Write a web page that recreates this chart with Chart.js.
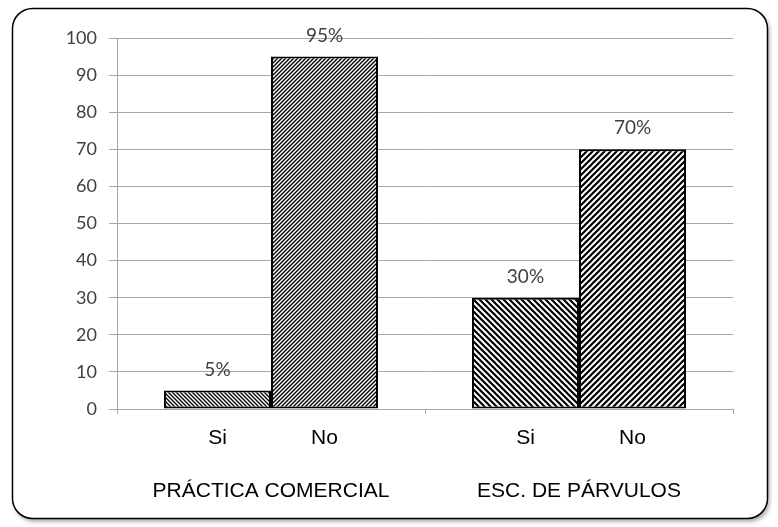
<!DOCTYPE html>
<html>
<head>
<meta charset="utf-8">
<script src="https://cdn.jsdelivr.net/npm/chart.js@4/dist/chart.umd.min.js"></script>
<style>
html,body{margin:0;padding:0;background:#fff;}
#wrap{width:778px;height:527px;position:relative;}
</style>
</head>
<body>
<div id="wrap"><canvas id="c"></canvas></div>
<script>
// ---- data ----
const categories = ['PRÁCTICA COMERCIAL', 'ESC. DE PÁRVULOS'];
const seriesNames = ['Si', 'No'];
const siValues = [5, 30];
const noValues = [95, 70];
const yTicks = [0, 10, 20, 30, 40, 50, 60, 70, 80, 90, 100];

// ---- hatch patterns ----
function hatch(period, width, dir) {
  const c = document.createElement('canvas');
  c.width = period; c.height = period;
  const g = c.getContext('2d');
  g.fillStyle = '#fff';
  g.fillRect(0, 0, period, period);
  g.strokeStyle = '#000';
  g.lineWidth = width;
  g.beginPath();
  const p = period;
  if (dir === 'back') {
    g.moveTo(-p, -p); g.lineTo(2 * p, 2 * p);
    g.moveTo(-p, 0); g.lineTo(p, 2 * p);
    g.moveTo(0, -p); g.lineTo(2 * p, p);
  } else {
    g.moveTo(-p, 2 * p); g.lineTo(2 * p, -p);
    g.moveTo(-p, p); g.lineTo(p, -p);
    g.moveTo(0, 2 * p); g.lineTo(2 * p, 0);
  }
  g.stroke();
  return g.createPattern(c, 'repeat');
}
const siPatterns = [hatch(4, 1.3, 'back'), hatch(6, 2.2, 'back')];
const noPatterns = [hatch(4, 1.4, 'fwd'), hatch(6, 2.2, 'fwd')];

const labelFont = '21px "Liberation Sans", Arial, sans-serif';

const frame = {
  id: 'frame',
  beforeDraw(chart) {
    const g = chart.ctx;
    g.save();
    g.fillStyle = '#fff';
    g.fillRect(0, 0, chart.width, chart.height);
    const x = 12.5, y = 8.5, w = 755, h = 510, r = 20;
    g.shadowColor = 'rgba(0,0,0,0.35)';
    g.shadowBlur = 4;
    g.shadowOffsetX = 2;
    g.shadowOffsetY = 3;
    g.beginPath();
    g.roundRect(x, y, w, h, r);
    g.fillStyle = '#fff';
    g.fill();
    g.shadowColor = 'transparent';
    g.lineWidth = 1.5;
    g.strokeStyle = '#000';
    g.stroke();
    g.restore();
  },
  afterDatasetsDraw(chart) {
    const g = chart.ctx;
    g.save();
    g.textAlign = 'center';
    g.textBaseline = 'middle';
    chart.data.datasets.forEach((ds, di) => {
      const meta = chart.getDatasetMeta(di);
      meta.data.forEach((bar, i) => {
        g.fillStyle = '#404040';
        g.font = '19px Lato, "Open Sans", sans-serif';
        g.fillText(ds.data[i] + '%', bar.x, bar.y - 21);
        g.fillStyle = '#000';
        g.font = labelFont;
        g.fillText(ds.label, bar.x, chart.chartArea.bottom + 29);
      });
    });
    g.restore();
  }
};

new Chart(document.getElementById('c'), {
  type: 'bar',
  data: {
    labels: categories,
    datasets: [
      { label: seriesNames[0], data: siValues, backgroundColor: siPatterns,
        borderColor: '#000', borderWidth: 2, borderSkipped: false },
      { label: seriesNames[1], data: noValues, backgroundColor: noPatterns,
        borderColor: '#000', borderWidth: 2, borderSkipped: false }
    ]
  },
  options: {
    responsive: true,
    maintainAspectRatio: false,
    animation: false,
    devicePixelRatio: 1,
    layout: { padding: { left: 0, right: 45, top: 38, bottom: 0 } },
    plugins: { legend: { display: false }, tooltip: { enabled: false } },
    datasets: { bar: { categoryPercentage: 0.695, barPercentage: 1 } },
    scales: {
      x: {
        offset: true,
        grid: { display: true, drawOnChartArea: false, drawTicks: true, tickLength: 5,
                offset: true, color: '#a6a6a6' },
        border: { color: '#a6a6a6', width: 1 },
        ticks: { color: '#000', padding: 65, maxRotation: 0,
                 font: { family: '"Liberation Sans", Arial, sans-serif', size: 21 } },
        afterFit(s) { s.height = 118; }
      },
      y: {
        min: 0, max: 100,
        afterBuildTicks(s) { s.ticks = yTicks.map(v => ({ value: v })); },
        grid: { color: '#a6a6a6', tickLength: 8, drawTicks: true },
        border: { color: '#a6a6a6', width: 1 },
        ticks: { color: '#404040', padding: 12,
                 font: { family: 'Lato, "Open Sans", sans-serif', size: 18 } },
        afterFit(s) { s.width = 117; }
      }
    }
  },
  plugins: [frame]
});
</script>
</body>
</html>
